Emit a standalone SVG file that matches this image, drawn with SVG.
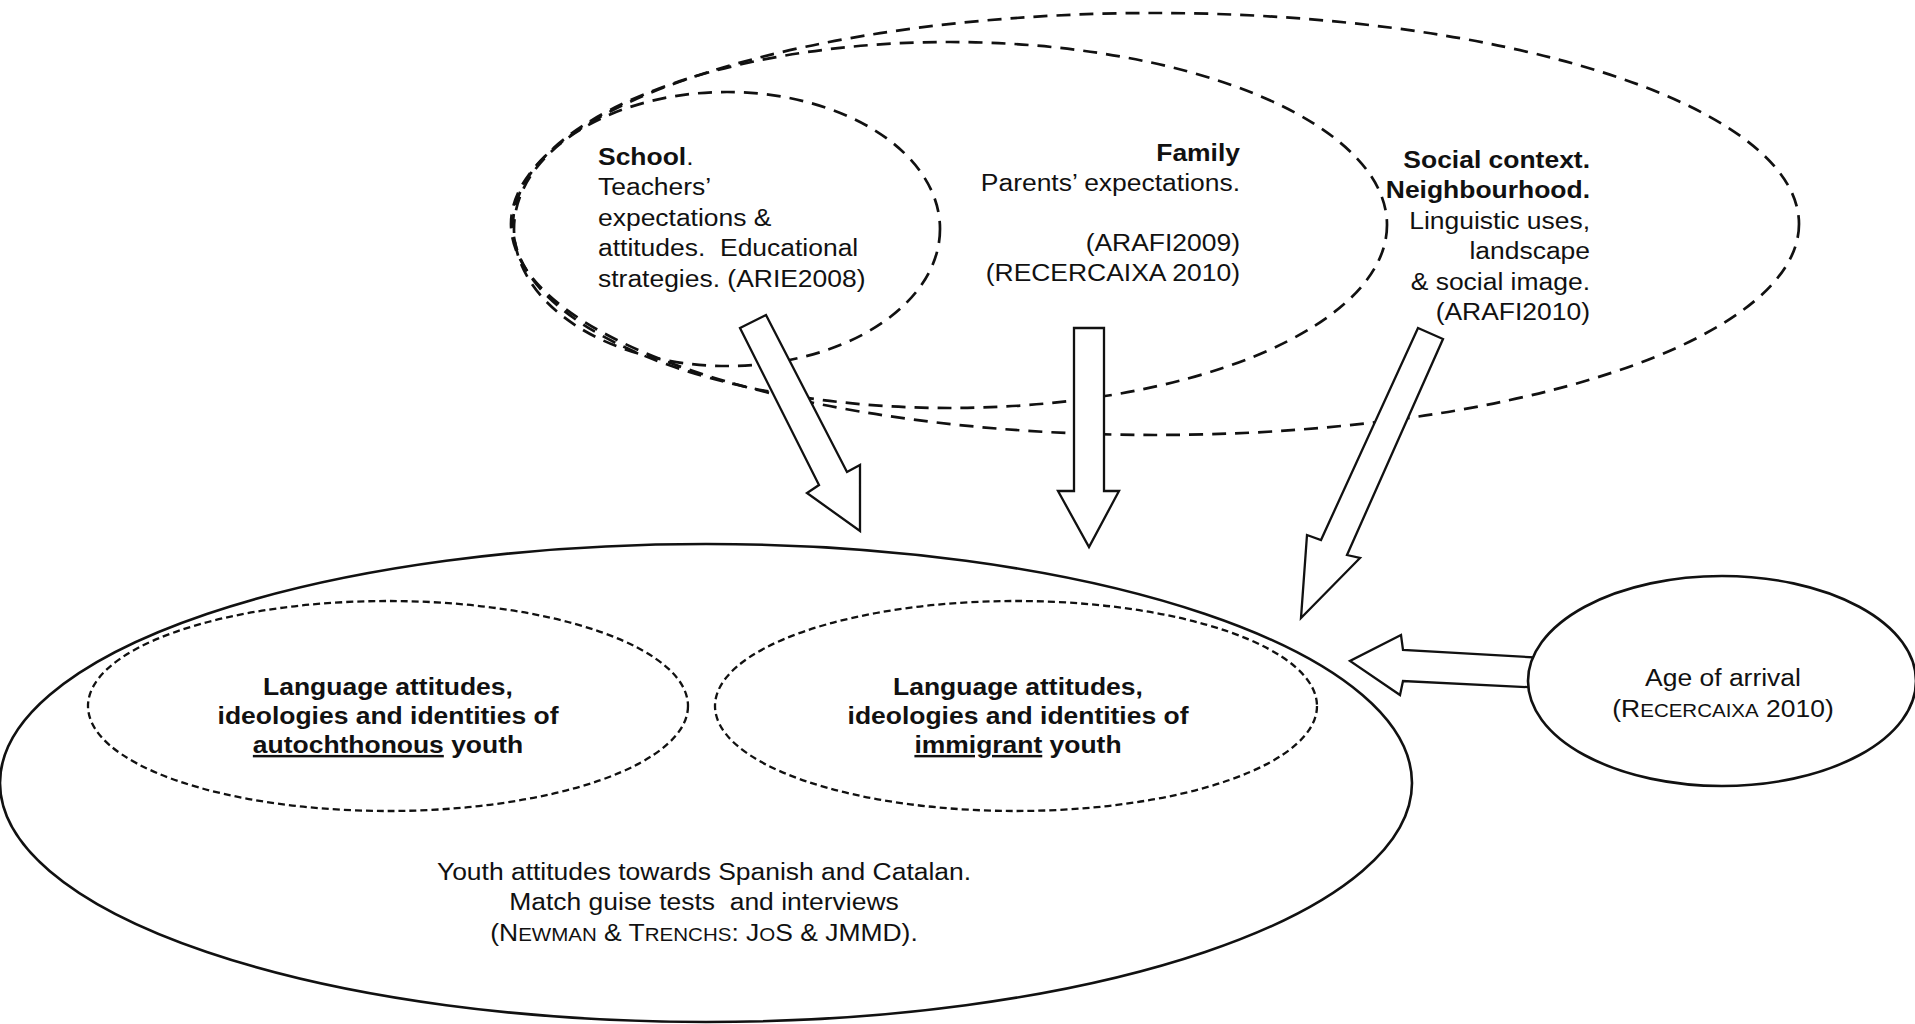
<svg xmlns="http://www.w3.org/2000/svg" width="1915" height="1024" viewBox="0 0 1915 1024">
<style>
.dash{fill:none;stroke:#111;stroke-width:2.7;stroke-dasharray:14 9}
.dash2{fill:none;stroke:#111;stroke-width:2.3;stroke-dasharray:7 4}
.solid{fill:none;stroke:#111;stroke-width:2.6}
.arrow{fill:#fff;stroke:#111;stroke-width:2.3;stroke-linejoin:miter}
text{font-family:"Liberation Sans",Arial,sans-serif;font-size:24.5px;fill:#111;white-space:pre}
.b{font-weight:bold}
.sc{font-size:19px}
</style>
<rect width="1915" height="1024" fill="#fff"/>

<g id="node-social">
<ellipse class="dash" cx="1155" cy="224" rx="644" ry="211"/>
<g transform="translate(1590 0) scale(1.08 1)">
<text x="0" y="168" text-anchor="end" class="b">Social context.</text>
<text x="0" y="198.5" text-anchor="end" class="b">Neighbourhood.</text>
<text x="0" y="229" text-anchor="end">Linguistic uses,</text>
<text x="0" y="259.5" text-anchor="end">landscape</text>
<text x="0" y="290" text-anchor="end">&amp; social image.</text>
<text x="0" y="320.5" text-anchor="end">(ARAFI2010)</text>
</g>
</g>

<g id="node-family">
<ellipse class="dash" cx="950" cy="225" rx="437" ry="183"/>
<g transform="translate(1240 0) scale(1.08 1)">
<text x="0" y="161" text-anchor="end" class="b">Family</text>
<text x="0" y="191" text-anchor="end">Parents’ expectations.</text>
<text x="0" y="251" text-anchor="end">(ARAFI2009)</text>
<text x="0" y="281" text-anchor="end">(RECERCAIXA 2010)</text>
</g>
</g>

<g id="node-school">
<ellipse class="dash" cx="727" cy="229" rx="213" ry="137"/>
<g transform="translate(598 0) scale(1.08 1)">
<text x="0" y="165"><tspan class="b">School</tspan>.</text>
<text x="0" y="195.5">Teachers’</text>
<text x="0" y="226">expectations &amp;</text>
<text x="0" y="256.5">attitudes.  Educational</text>
<text x="0" y="287">strategies. (ARIE2008)</text>
</g>
</g>

<g id="connectors">
<polygon id="arrow-school" class="arrow" points="740,328 766,315 847,472 860,465 860,531 807,493 819,485"/>
<polygon id="arrow-family" class="arrow" points="1074,328 1104,328 1104,491 1119,491 1089,547 1058,491 1074,491"/>
<polygon id="arrow-social" class="arrow" points="1418,328 1443,339 1347,555 1360,558 1301,618 1307,535 1321,540"/>
<polygon id="arrow-age" class="arrow" points="1545,658 1403,650 1401,635 1350,661 1400,695 1403,681 1545,688"/>
</g>

<g id="node-youth">
<ellipse class="solid" cx="706" cy="783" rx="706" ry="239"/>
<g transform="translate(704 0) scale(1.08 1)">
<text x="0" y="880" text-anchor="middle">Youth attitudes towards Spanish and Catalan.</text>
<text x="0" y="910.5" text-anchor="middle">Match guise tests  and interviews</text>
<text x="0" y="941" text-anchor="middle">(N<tspan class="sc">EWMAN</tspan> &amp; T<tspan class="sc">RENCHS</tspan>: J<tspan class="sc">O</tspan>S &amp; JMMD).</text>
</g>
</g>

<g id="node-autochthonous">
<ellipse class="dash2" cx="388" cy="706" rx="300" ry="105"/>
<g transform="translate(388 0) scale(1.08 1)">
<text x="0" y="695" text-anchor="middle" class="b">Language attitudes,</text>
<text x="0" y="724" text-anchor="middle" class="b">ideologies and identities of</text>
<text x="0" y="753" text-anchor="middle" class="b"><tspan text-decoration="underline">autochthonous</tspan> youth</text>
</g>
</g>

<g id="node-immigrant">
<ellipse class="dash2" cx="1016" cy="706" rx="301" ry="105"/>
<g transform="translate(1018 0) scale(1.08 1)">
<text x="0" y="695" text-anchor="middle" class="b">Language attitudes,</text>
<text x="0" y="724" text-anchor="middle" class="b">ideologies and identities of</text>
<text x="0" y="753" text-anchor="middle" class="b"><tspan text-decoration="underline">immigrant</tspan> youth</text>
</g>
</g>

<g id="node-age">
<ellipse cx="1722" cy="681" rx="194" ry="105" fill="#fff" stroke="#111" stroke-width="2.6"/>
<g transform="translate(1723 0) scale(1.08 1)">
<text x="0" y="686" text-anchor="middle">Age of arrival</text>
<text x="0" y="717" text-anchor="middle">(R<tspan class="sc">ECERCAIXA</tspan> 2010)</text>
</g>
</g>
</svg>
